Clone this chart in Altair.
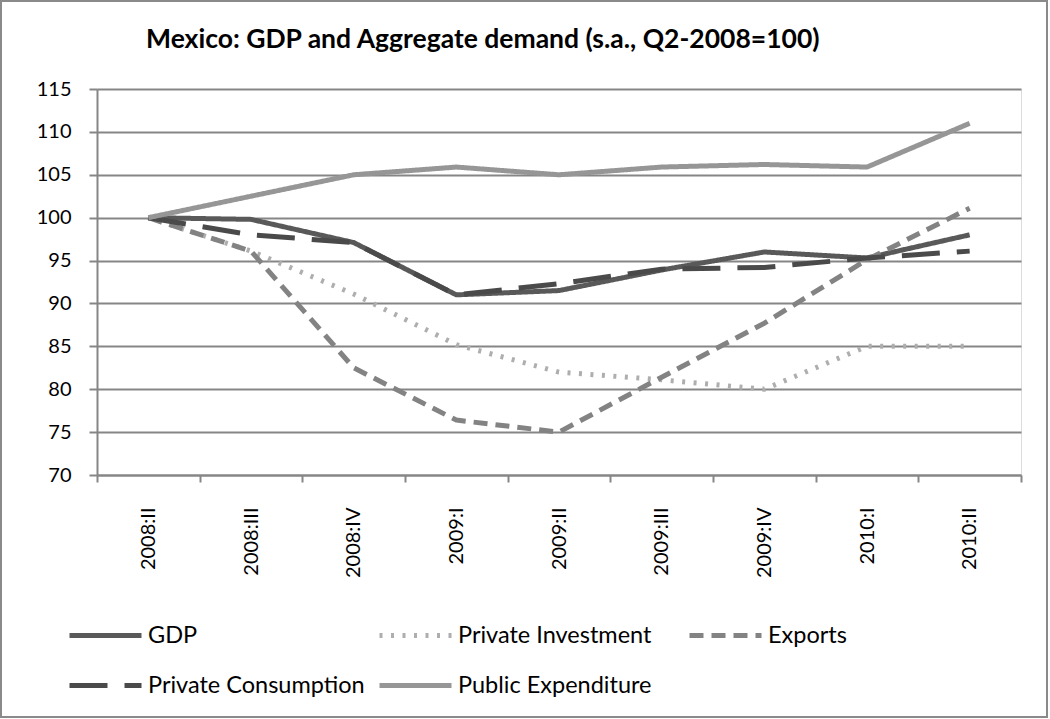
import altair as alt
import pandas as pd

quarters = ["2008:II", "2008:III", "2008:IV", "2009:I", "2009:II",
            "2009:III", "2009:IV", "2010:I", "2010:II"]
series_names = ["GDP", "Private Investment", "Exports",
                "Private Consumption", "Public Expenditure"]
gdp = [100, 99.8, 97.1, 91.0, 91.5, 93.9, 96.0, 95.3, 98.0]
investment = [100, 96.1, 91.1, 85.2, 82.0, 81.1, 80.0, 85.0, 85.0]
exports = [100, 96.1, 82.5, 76.4, 75.0, 81.4, 87.7, 95.1, 101.1]
consumption = [100, 98.0, 97.1, 91.0, 92.3, 94.0, 94.2, 95.3, 96.1]
public = [100, 102.5, 105.0, 105.9, 105.0, 105.9, 106.2, 105.9, 111.0]

values = [gdp, investment, exports, consumption, public]
rows = []
for name, vals in zip(series_names, values):
    for q, v in zip(quarters, vals):
        rows.append({"quarter": q, "series": name, "value": v})
df = pd.DataFrame(rows)

colors = ["#595959", "#aeaeae", "#838383", "#4a4a4a", "#969696"]
dashes = [[1, 0], [3, 8.5], [14, 8], [38, 17], [1, 0]]
widths = [5, 5, 4.5, 5, 4.5]

FONT = "Lato"
GRID = "#868686"

legend = alt.Legend(
    title=None, orient="none", legendX=-30, legendY=508,
    direction="horizontal", columns=3, gridAlign="all",
    columnPadding=4, rowPadding=-20,
    symbolType="stroke", symbolSize=5184, symbolStrokeWidth=5,
    labelFont=FONT, labelFontSize=23.5, labelColor="#000000", labelOffset=4,
    labelLimit=400,
)

lines = alt.Chart(df).mark_line(strokeCap="butt", strokeJoin="round").encode(
    x=alt.X("quarter:N", sort=quarters, bandPosition=0.5, title=None,
            scale=alt.Scale(type="band", paddingInner=0, paddingOuter=0),
            axis=alt.Axis(labelAngle=270, labelAlign="right", labelBaseline="middle",
                          tickBand="extent", tickSize=7, tickColor=GRID, tickWidth=2,
                          domainColor=GRID, domainWidth=2, labelPadding=25,
                          labelFont=FONT, labelFontSize=20, labelColor="#000000",
                          grid=False)),
    y=alt.Y("value:Q", title=None,
            scale=alt.Scale(domain=[70, 115], nice=False, zero=False),
            axis=alt.Axis(values=list(range(70, 116, 5)), tickSize=8, tickColor=GRID,
                          tickWidth=2, domainColor=GRID, domainWidth=2,
                          gridColor=GRID, gridWidth=2, grid=True, labelPadding=18,
                          labelFont=FONT, labelFontSize=20, labelColor="#000000")),
    color=alt.Color("series:N", scale=alt.Scale(domain=series_names, range=colors),
                    legend=legend),
    strokeDash=alt.StrokeDash("series:N",
                              scale=alt.Scale(domain=series_names, range=dashes),
                              legend=legend),
    strokeWidth=alt.StrokeWidth("series:N",
                                scale=alt.Scale(domain=series_names, range=widths),
                                legend=None),
    order=alt.Order("quarter_idx:Q"),
).transform_calculate(
    quarter_idx="indexof(" + str(quarters) + ", datum.quarter)"
)

border = alt.Chart(alt.Data(values=[{"b": 1}])).mark_rect(
    filled=False, stroke="#8a8a8a", strokeWidth=2
).encode(
    x=alt.value(-96), x2=alt.value(950), y=alt.value(-88), y2=alt.value(628)
)

chart = alt.layer(lines, border).properties(
    width=924, height=386,
    title=alt.TitleParams(
        "Mexico: GDP and Aggregate demand (s.a., Q2-2008=100)",
        anchor="start", frame="group", dx=49, offset=0, dy=74,
        baseline="alphabetic",
        font=FONT, fontSize=26.5, fontWeight="bold", color="#000000"),
    autosize=alt.AutoSizeParams(type="none"),
    padding={"left": 97, "top": 89, "right": 29, "bottom": 244},
).configure_view(stroke=None).configure(background="#ffffff")

chart.save("out.html", embed_options={"renderer": "svg", "actions": False})
